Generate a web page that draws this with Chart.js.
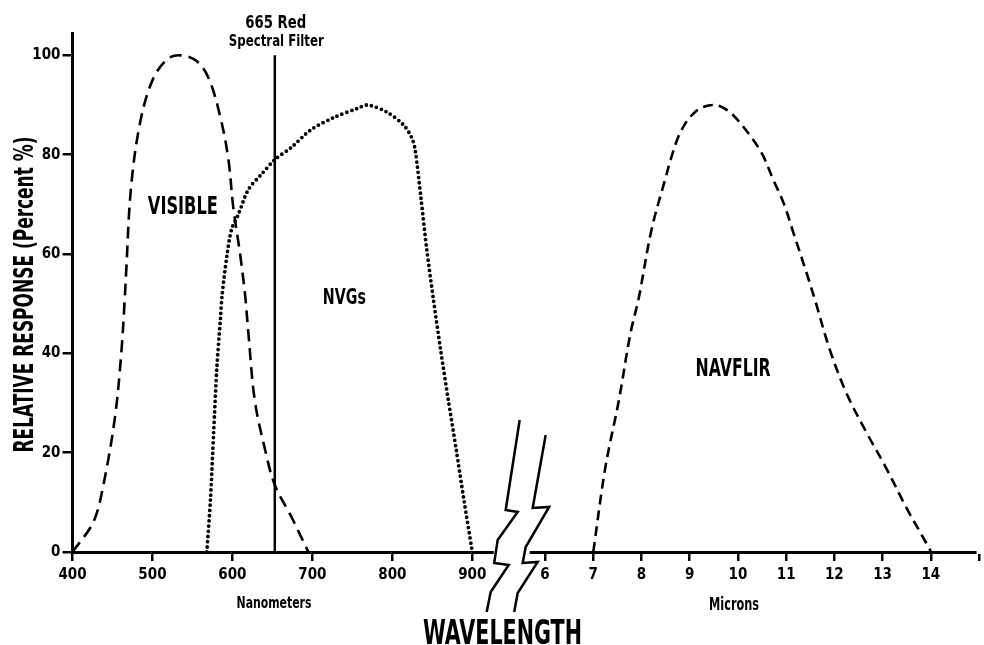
<!DOCTYPE HTML>
<html lang="en">
<head>
    <meta charset="UTF-8">
    <title>Relative response by wavelength</title>
    <script src="https://cdn.jsdelivr.net/npm/chart.js"></script>
    <style>
        body {
            margin: 0;
            padding: 0;
            background-color: #fff;
        }
        #chart {
            display: block;
        }
    </style>
</head>
<body>
<canvas id="chart" width="984" height="645"></canvas>
<script>
    // Тики осей
    var nmTicks = [400, 500, 600, 700, 800, 900];
    var umTicks = [6, 7, 8, 9, 10, 11, 12, 13, 14, 15];
    var umTickLabels = ['6', '7', '8', '9', '10', '11', '12', '13', '14', ''];
    var yTicks = [0, 20, 40, 60, 80, 100];

    // VISIBLE (нм, %)
    var visibleNm  = [400, 426, 438, 453, 461, 465, 467, 473, 484, 500, 519, 535, 554, 570, 585, 595, 601, 610, 616, 620, 628, 641, 653, 674, 695];
    var visibleVal = [0, 6, 13, 27, 40, 50, 56, 73, 86, 95, 99.3, 100, 99, 95.5, 87.5, 79, 69.5, 59.5, 51.5, 44, 30.5, 20.5, 13.5, 7, 0];

    // NVGs (нм, %)
    var nvgNm  = [568, 572.5, 576.5, 580.5, 585, 587, 593, 599, 607.5, 620, 636, 653, 674, 698, 727, 756, 769, 793, 814, 824, 828.5, 836, 843, 851.5, 860.5, 870, 880, 889.5, 899, 900];
    var nvgVal = [0, 10.5, 24, 37, 47, 51.5, 59.5, 65, 68, 73, 76, 79, 81.5, 85, 87.5, 89.3, 90, 88.6, 86, 83.5, 81, 71, 61, 50.7, 40.6, 30.6, 20.5, 10.5, 1, 0];

    // NAVFLIR (мкм, %)
    var navflirUm  = [7, 7.25, 7.53, 7.77, 7.94, 8.21, 8.49, 8.62, 8.76, 8.91, 9.05, 9.23, 9.52, 9.79, 10, 10.27, 10.5, 10.74, 10.95, 11.16, 11.43, 11.6, 11.91, 12.25, 12.67, 13.07, 13.49, 13.97, 14];
    var navflirVal = [0, 17, 30.5, 44, 51, 65, 75, 79.5, 83.5, 86.3, 88, 89.4, 90, 88.9, 86.9, 83.6, 80.2, 74.8, 70.2, 64, 56, 50.7, 40.6, 32, 24, 17, 9, 0.7, 0];

    // Фильтр 665 Red
    var filterNm = 653;
    var filterTop = 100;

    // Разрыв оси: микроны переводим в единицы оси (нм-шкала)
    var BREAK_AT = 991;   // где стоит 6 мкм
    var UM_STEP = 60.3;   // одна единица мкм в единицах оси
    var X_MAX = 1529.5;
    var Y_MAX = 104.5;
    function toAxis(um) {
        return BREAK_AT + (um - 6) * UM_STEP;
    }

    var xTickValues = nmTicks.concat(umTicks.map(toAxis));
    var xTickLabels = nmTicks.map(String).concat(umTickLabels);

    function points(xs, ys, fx) {
        return xs.map(function (x, i) {
            return { x: fx ? fx(x) : x, y: ys[i] };
        });
    }

    var FONT = '"DejaVu Sans Condensed", "DejaVu Sans", sans-serif';

    // Сжатый жирный текст (как в оригинале)
    function squashed(ctx, text, x, y, size, width, angle) {
        ctx.save();
        ctx.translate(x, y);
        if (angle) ctx.rotate(angle);
        ctx.font = 'bold ' + size + 'px ' + FONT;
        var w = ctx.measureText(text).width;
        ctx.scale(width / w, 1);
        ctx.textAlign = 'center';
        ctx.textBaseline = 'alphabetic';
        ctx.fillStyle = '#000';
        ctx.fillText(text, 0, 0);
        ctx.restore();
    }

    // Подписи, разрыв оси
    var extras = {
        id: 'extras',
        afterDraw: function (chart) {
            var ctx = chart.ctx;
            var xs = chart.scales.x;
            var ys = chart.scales.y;
            var px = function (v) { return xs.getPixelForValue(v); };
            var py = function (v) { return ys.getPixelForValue(v); };

            squashed(ctx, 'RELATIVE RESPONSE (Percent %)', 33, (ys.top + ys.bottom) / 2 + 2, 27, 316, -Math.PI / 2);
            squashed(ctx, '665 Red', px(filterNm) + 1, 28, 18, 61);
            squashed(ctx, 'Spectral Filter', px(filterNm) + 1.5, 46, 15.5, 95);
            squashed(ctx, 'VISIBLE', px(538), py(68), 25, 70);
            squashed(ctx, 'NVGs', px(740), py(50), 22, 43);
            squashed(ctx, 'NAVFLIR', px(toAxis(9.9)), py(35.5), 24, 75);
            squashed(ctx, 'Nanometers', px(652), 608, 15, 75);
            squashed(ctx, 'Microns', px(toAxis(9.92)), 610, 17, 50);
            squashed(ctx, 'WAVELENGTH', 502.5, 644, 33, 159);

            // разрыв
            var mid = (px(900) + px(toAxis(6))) / 2;
            var base = py(0);
            ctx.save();
            ctx.fillStyle = '#fff';
            ctx.fillRect(mid - 15, base - 4, 36, 8);
            ctx.strokeStyle = '#000';
            ctx.lineWidth = 2.5;
            ctx.lineJoin = 'miter';
            var zigs = [
                [[11, -132], [-3, -42], [9, -40], [-11, -12], [-14.5, 11], [0, 13], [-18, 40], [-22, 60]],
                [[37, -117], [24, -44], [40.5, -45], [17, -5], [14, 11], [29, 10], [9, 41], [5.5, 60]]
            ];
            zigs.forEach(function (z) {
                ctx.beginPath();
                z.forEach(function (p, i) {
                    if (i === 0) ctx.moveTo(mid + p[0], base + p[1]);
                    else ctx.lineTo(mid + p[0], base + p[1]);
                });
                ctx.stroke();
            });
            ctx.restore();
        }
    };

    var ctx = document.getElementById('chart').getContext('2d');
    var chart = new Chart(ctx, {
        type: 'line',
        data: {
            datasets: [
                {
                    label: 'VISIBLE',
                    data: points(visibleNm, visibleVal),
                    borderColor: '#000',
                    borderWidth: 2.6,
                    borderDash: [12, 7],
                    pointRadius: 0,
                    tension: 0.35
                },
                {
                    label: 'NVGs',
                    data: points(nvgNm, nvgVal),
                    borderColor: '#000',
                    borderWidth: 3.8,
                    borderDash: [0, 5.2],
                    borderCapStyle: 'round',
                    pointRadius: 0,
                    tension: 0.3
                },
                {
                    label: 'NAVFLIR',
                    data: points(navflirUm, navflirVal, toAxis),
                    borderColor: '#000',
                    borderWidth: 2.6,
                    borderDash: [10, 6],
                    pointRadius: 0,
                    tension: 0.35
                },
                {
                    label: '665 Red Spectral Filter',
                    data: [{ x: filterNm, y: 0 }, { x: filterNm, y: filterTop }],
                    borderColor: '#000',
                    borderWidth: 2.5,
                    pointRadius: 0
                }
            ]
        },
        options: {
            responsive: false,
            animation: false,
            layout: { padding: { top: 33, left: 0, right: 0, bottom: 0 } },
            plugins: {
                legend: { display: false },
                tooltip: { enabled: false }
            },
            scales: {
                x: {
                    type: 'linear',
                    min: 400,
                    max: X_MAX,
                    afterBuildTicks: function (s) {
                        s.ticks = xTickValues.map(function (v) { return { value: v }; });
                    },
                    afterFit: function (s) { s.height = 93; },
                    ticks: {
                        autoSkip: false,
                        maxRotation: 0,
                        padding: 5,
                        color: '#000',
                        font: { family: FONT, size: 15, weight: 'bold' },
                        callback: function (value, index) { return xTickLabels[index]; }
                    },
                    grid: { drawOnChartArea: false, tickLength: 9, color: '#000', lineWidth: 2.5 },
                    border: { color: '#000', width: 3 }
                },
                y: {
                    min: 0,
                    max: Y_MAX,
                    afterBuildTicks: function (s) {
                        s.ticks = yTicks.map(function (v) { return { value: v }; });
                    },
                    afterFit: function (s) { s.width = 72.5; },
                    ticks: {
                        padding: 2,
                        color: '#000',
                        font: { family: FONT, size: 15, weight: 'bold' }
                    },
                    grid: { drawOnChartArea: false, tickLength: 10, color: '#000', lineWidth: 2.5 },
                    border: { color: '#000', width: 3 }
                }
            }
        },
        plugins: [extras]
    });
</script>
</body>
</html>
